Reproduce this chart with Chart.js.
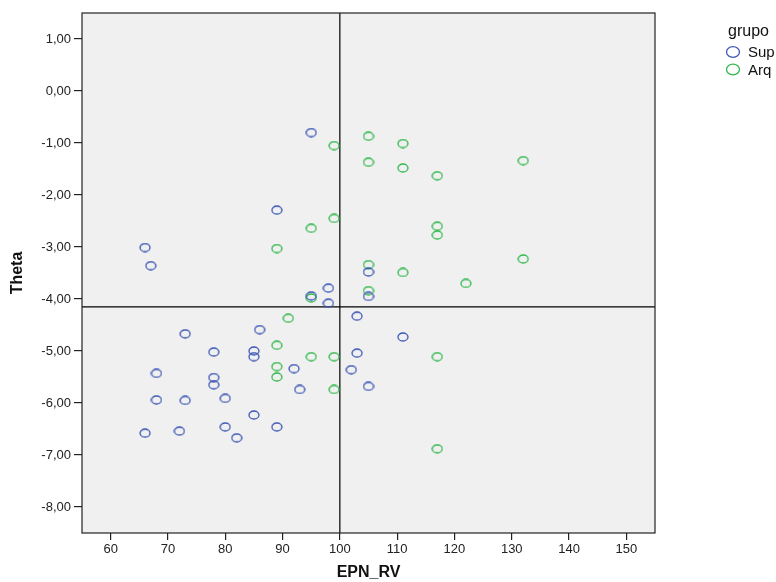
<!DOCTYPE html>
<html>
<head>
<meta charset="utf-8">
<script src="https://cdn.jsdelivr.net/npm/chart.js@4/dist/chart.umd.min.js"></script>
<style>
  html, body { margin: 0; padding: 0; background: #fff; }
  #wrap { width: 776px; height: 582px; position: relative; overflow: hidden; }
</style>
</head>
<body>
<div id="wrap"><canvas id="canvasScatter" width="776" height="582"></canvas></div>
<script>
// datos
// =================================
const groupTitle = 'grupo';
const groupLabels = ['Sup', 'Arq'];

const supEpn = [95, 89, 66, 67, 98, 95, 98, 105, 105, 103, 86, 73, 78, 85, 85, 103, 92,
  102, 68, 78, 78, 105, 93, 80, 68, 73, 85, 80, 89, 72, 66, 82, 111];
const supTheta = [-0.80, -2.29, -3.01, -3.36, -3.79, -3.94, -4.08, -3.48, -3.95, -4.33, -4.59,
  -4.67, -5.02, -5.00, -5.11, -5.04, -5.34, -5.36, -5.43, -5.51, -5.65, -5.68, -5.74, -5.91,
  -5.94, -5.95, -6.23, -6.46, -6.46, -6.54, -6.58, -6.67, -4.73];

const arqEpn = [99, 105, 105, 111, 111, 117, 132, 99, 95, 89, 117, 117, 132, 105, 111, 122,
  105, 95, 91, 89, 95, 99, 117, 89, 89, 99, 117];
const arqTheta = [-1.05, -0.87, -1.37, -1.01, -1.48, -1.63, -1.34, -2.45, -2.64, -3.03, -2.60,
  -2.77, -3.23, -3.34, -3.49, -3.70, -3.84, -3.98, -4.37, -4.89, -5.11, -5.11, -5.11, -5.30,
  -5.50, -5.74, -6.88];

const xTicks = [60, 70, 80, 90, 100, 110, 120, 130, 140, 150];
const yTicks = [-8, -7, -6, -5, -4, -3, -2, -1, 0, 1];

// lineas de referencia
const refEpn = 100;
const refTheta = -4.15;

const colors = ['#3a55b4', '#2fb84a'];

// helpers
// =================================
function toPoints(xs, ys) {
  return xs.map((x, i) => ({ x: x, y: ys[i] }));
}

// marcador elíptico
function ellipseMarker(color, w, h) {
  const c = document.createElement('canvas');
  c.width = w + 2;
  c.height = h + 2;
  const g = c.getContext('2d');
  g.strokeStyle = color;
  g.lineWidth = 1.3;
  g.beginPath();
  g.ellipse(c.width / 2, c.height / 2, w / 2, h / 2, 0, 0, Math.PI * 2);
  g.stroke();
  return c;
}

// fondo, marco y lineas de referencia
const framePlugin = {
  id: 'frame',
  beforeDraw(chart) {
    const { ctx, chartArea: a } = chart;
    ctx.save();
    ctx.fillStyle = '#f0f0f0';
    ctx.fillRect(a.left, a.top, a.width, a.height);
    ctx.restore();
  },
  beforeDatasetsDraw(chart) {
    const { ctx, chartArea: a, scales } = chart;
    ctx.save();
    ctx.strokeStyle = '#000';
    ctx.lineWidth = 1.2;
    const xr = scales.x.getPixelForValue(refEpn);
    const yr = scales.y.getPixelForValue(refTheta);
    ctx.beginPath();
    ctx.moveTo(xr, a.top);
    ctx.lineTo(xr, a.bottom);
    ctx.moveTo(a.left, yr);
    ctx.lineTo(a.right, yr);
    ctx.stroke();
    ctx.restore();
  },
  afterDraw(chart) {
    const { ctx, chartArea: a } = chart;
    ctx.save();
    ctx.strokeStyle = '#222';
    ctx.lineWidth = 1.2;
    ctx.strokeRect(a.left, a.top, a.width, a.height);

    // leyenda
    ctx.fillStyle = '#111';
    ctx.textBaseline = 'middle';
    ctx.font = '16px "Liberation Sans", Arial, sans-serif';
    ctx.fillText(groupTitle, 728, 32);
    ctx.font = '15px "Liberation Sans", Arial, sans-serif';
    groupLabels.forEach((lab, i) => {
      const y = 52 + i * 17.5;
      ctx.strokeStyle = colors[i];
      ctx.lineWidth = 1.3;
      ctx.beginPath();
      ctx.ellipse(733, y, 6.5, 5.3, 0, 0, Math.PI * 2);
      ctx.stroke();
      ctx.fillText(lab, 748, y + 1);
    });
    ctx.restore();
  }
};

// Chart.js setting
// =================================
const ctx = document.getElementById('canvasScatter').getContext('2d');
const scatter = new Chart(ctx, {
  type: 'scatter',
  data: {
    datasets: [
      {
        label: groupLabels[0],
        data: toPoints(supEpn, supTheta),
        pointStyle: ellipseMarker(colors[0], 10, 8),
        borderColor: colors[0]
      },
      {
        label: groupLabels[1],
        data: toPoints(arqEpn, arqTheta),
        pointStyle: ellipseMarker(colors[1], 10, 8),
        borderColor: colors[1]
      }
    ]
  },
  options: {
    responsive: false,
    animation: false,
    layout: { padding: { top: 13, right: 121, left: 0, bottom: 0 } },
    plugins: {
      legend: { display: false },
      tooltip: { enabled: false }
    },
    scales: {
      x: {
        type: 'linear',
        min: 55,
        max: 155,
        afterBuildTicks: s => { s.ticks = xTicks.map(v => ({ value: v })); },
        afterFit: s => { s.height = 49; },
        grid: { drawOnChartArea: false, drawTicks: true, tickLength: 7, color: '#222', lineWidth: 1.2 },
        border: { display: false },
        ticks: {
          padding: 2,
          color: '#222',
          font: { family: '"Liberation Sans", Arial, sans-serif', size: 13 }
        },
        title: {
          display: true,
          text: 'EPN_RV',
          color: '#111',
          padding: { top: 1, bottom: 0 },
          font: { family: '"Liberation Sans", Arial, sans-serif', size: 16, weight: 'bold' }
        }
      },
      y: {
        type: 'linear',
        min: -8.5,
        max: 1.5,
        afterBuildTicks: s => { s.ticks = yTicks.map(v => ({ value: v })); },
        afterFit: s => { s.width = 82; },
        grid: { drawOnChartArea: false, drawTicks: true, tickLength: 8, color: '#222', lineWidth: 1.2 },
        border: { display: false },
        ticks: {
          padding: 3,
          color: '#222',
          font: { family: '"Liberation Sans", Arial, sans-serif', size: 13 },
          callback: v => v.toFixed(2).replace('.', ',')
        },
        title: {
          display: true,
          text: 'Theta',
          color: '#111',
          padding: { top: 8, bottom: 4 },
          font: { family: '"Liberation Sans", Arial, sans-serif', size: 16, weight: 'bold' }
        }
      }
    }
  },
  plugins: [framePlugin]
});
</script>
</body>
</html>
